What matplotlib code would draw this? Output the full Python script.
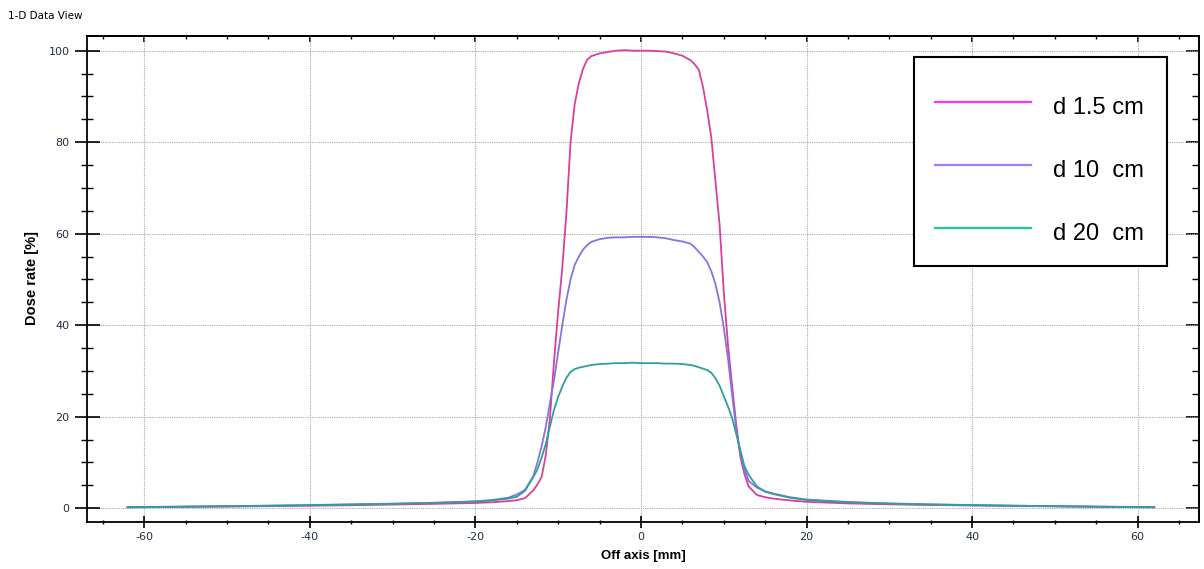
import matplotlib
matplotlib.use("Agg")
import matplotlib.pyplot as plt
from matplotlib.lines import Line2D
from matplotlib.patches import Rectangle
from matplotlib.ticker import MultipleLocator

plt.rcParams["axes.unicode_minus"] = False

# Off-axis positions [mm] and relative dose rate [%] for each depth
off_axis = [-62, -55, -50, -45, -40, -35, -30, -25, -20, -18, -16, -15, -14, -13,
            -12.5, -12, -11.5, -11, -10.5, -10, -9.5, -9, -8.5, -8, -7.5, -7, -6.5,
            -6, -5, -4, -3, -2, -1, 0, 1, 2, 3, 4, 5, 6, 6.5, 7, 7.5, 8, 8.5, 9,
            9.5, 10, 10.5, 11, 11.5, 12, 12.5, 13, 14, 15, 16, 18, 20, 25, 30, 35,
            40, 45, 50, 55, 62]

dose_d15 = [0.2, 0.3, 0.35, 0.45, 0.55, 0.65, 0.8, 0.95, 1.15, 1.3, 1.55, 1.75, 2.2, 3.9,
            5.2, 6.8, 11.5, 19.5, 32.0, 43.0, 52.5, 64.5, 80.0, 88.3, 92.9, 96.0, 98.0,
            98.8, 99.4, 99.7, 100.0, 100.1, 100.0, 100.0, 100.0, 99.9, 99.8, 99.4, 98.9,
            97.9, 97.0, 95.8, 92.0, 87.0, 81.0, 71.5, 62.0, 47.5, 36.0, 27.0, 18.5, 11.3,
            7.5, 4.8, 2.9, 2.4, 2.1, 1.7, 1.4, 1.05, 0.85, 0.7, 0.6, 0.5, 0.4, 0.3, 0.2]

dose_d10 = [0.2, 0.35, 0.45, 0.55, 0.7, 0.85, 1.0, 1.2, 1.5, 1.8, 2.3, 3.0, 4.0, 7.0,
            10.0, 13.5, 17.7, 22.9, 28.0, 34.0, 40.0, 45.5, 50.0, 53.2, 55.0, 56.5, 57.5,
            58.2, 58.8, 59.1, 59.2, 59.2, 59.3, 59.3, 59.3, 59.2, 59.0, 58.6, 58.3, 57.8,
            57.0, 56.0, 55.0, 53.8, 51.8, 49.0, 45.0, 39.5, 33.0, 25.0, 17.5, 11.8, 8.5,
            6.0, 4.5, 3.7, 3.2, 2.4, 1.9, 1.35, 1.05, 0.85, 0.7, 0.55, 0.45, 0.35, 0.2]

dose_d20 = [0.25, 0.35, 0.45, 0.55, 0.65, 0.8, 0.95, 1.15, 1.45, 1.7, 2.1, 2.5, 3.8, 6.8,
            8.5, 11.0, 14.0, 17.8, 21.5, 24.3, 26.6, 28.5, 29.8, 30.4, 30.7, 30.9, 31.1,
            31.3, 31.5, 31.6, 31.7, 31.7, 31.8, 31.7, 31.7, 31.7, 31.6, 31.6, 31.5, 31.3,
            31.1, 30.8, 30.5, 30.2, 29.6, 28.4, 26.8, 24.5, 22.3, 19.8, 16.3, 12.8, 9.2,
            7.3, 4.8, 3.6, 3.1, 2.3, 1.8, 1.3, 1.0, 0.8, 0.65, 0.55, 0.45, 0.35, 0.25]

series_labels = ["d 1.5 cm", "d 10  cm", "d 20  cm"]
curve_colors = ["#d6409e", "#8772e2", "#2e9e9e"]
legend_colors = ["#ff30ff", "#a87bff", "#1fc898"]

W, H = 1204, 569
fig = plt.figure(figsize=(W / 100, H / 100), dpi=100)
ax = fig.add_axes([0.0723, 0.0831, 0.9235, 0.8536])

for dose, color in zip([dose_d15, dose_d10, dose_d20], curve_colors):
    ax.plot(off_axis, dose, color=color, linewidth=1.3, solid_joinstyle="round")

ax.set_xlim(-66.9, 67.4)
ax.set_ylim(-2.95, 103.2)

ax.xaxis.set_major_locator(MultipleLocator(20))
ax.xaxis.set_minor_locator(MultipleLocator(5))
ax.yaxis.set_major_locator(MultipleLocator(20))
ax.yaxis.set_minor_locator(MultipleLocator(5))

ax.grid(True, which="major", color="#a8a8a8", linestyle=(0, (1, 1)), linewidth=0.8)
ax.set_axisbelow(True)

for side in ax.spines.values():
    side.set_linewidth(1.3)
    side.set_color("black")

tick_color = "#203040"
ax.tick_params(axis="y", which="major", direction="inout", length=18, width=1.2,
               pad=3.6, labelsize=8, labelcolor=tick_color, left=True, right=False)
ax.tick_params(axis="y", which="minor", direction="inout", length=9, width=1.0,
               left=True, right=False)
ax.tick_params(axis="x", which="major", direction="inout", length=8.5, width=1.2,
               pad=3.0, labelsize=8, labelcolor=tick_color, bottom=True, top=False)
ax.tick_params(axis="x", which="minor", direction="inout", length=3.4, width=1.0,
               bottom=True, top=False)

# Inward ticks along the top and right edges
top = ax.secondary_xaxis("top")
top.xaxis.set_major_locator(MultipleLocator(20))
top.xaxis.set_minor_locator(MultipleLocator(5))
top.tick_params(which="major", direction="in", length=4.5, width=1.2, labeltop=False)
top.tick_params(which="minor", direction="in", length=2.3, width=1.0)
top.spines["top"].set_linewidth(1.3)
right = ax.secondary_yaxis("right")
right.yaxis.set_major_locator(MultipleLocator(20))
right.yaxis.set_minor_locator(MultipleLocator(5))
right.tick_params(which="major", direction="in", length=9.4, width=1.2, labelright=False)
right.tick_params(which="minor", direction="in", length=5, width=1.0)
right.spines["right"].set_linewidth(1.3)

ax.set_xlabel("Off axis [mm]", family="Liberation Sans", fontsize=9.5,
              fontweight="bold", labelpad=6)
fig.text(32 / W, 1 - 278 / H, "Dose rate [%]", family="Liberation Sans",
         fontsize=10.5, fontweight="bold", rotation=90, ha="center", va="center")

fig.text(8 / W, 1 - 16 / H, "1-D Data View", fontsize=7.5, ha="left", va="center")

# Legend box with line samples and labels
def fx(px):
    return px / W


def fy(py):
    return 1 - py / H


fig.add_artist(Rectangle((fx(914), fy(266)), fx(1167) - fx(914), fy(57) - fy(266),
                         transform=fig.transFigure, facecolor="white",
                         edgecolor="black", linewidth=1.5, zorder=5))
row_y = [102, 165, 228]
for label, color, py in zip(series_labels, legend_colors, row_y):
    fig.add_artist(Line2D([fx(935), fx(1031)], [fy(py), fy(py)], color=color,
                          linewidth=1.6, transform=fig.transFigure, zorder=6))
    fig.text(fx(1053), fy(py + 6), label, family="Liberation Sans", fontsize=17,
             ha="left", va="center", zorder=6)

fig.savefig("out.png", dpi=100)
